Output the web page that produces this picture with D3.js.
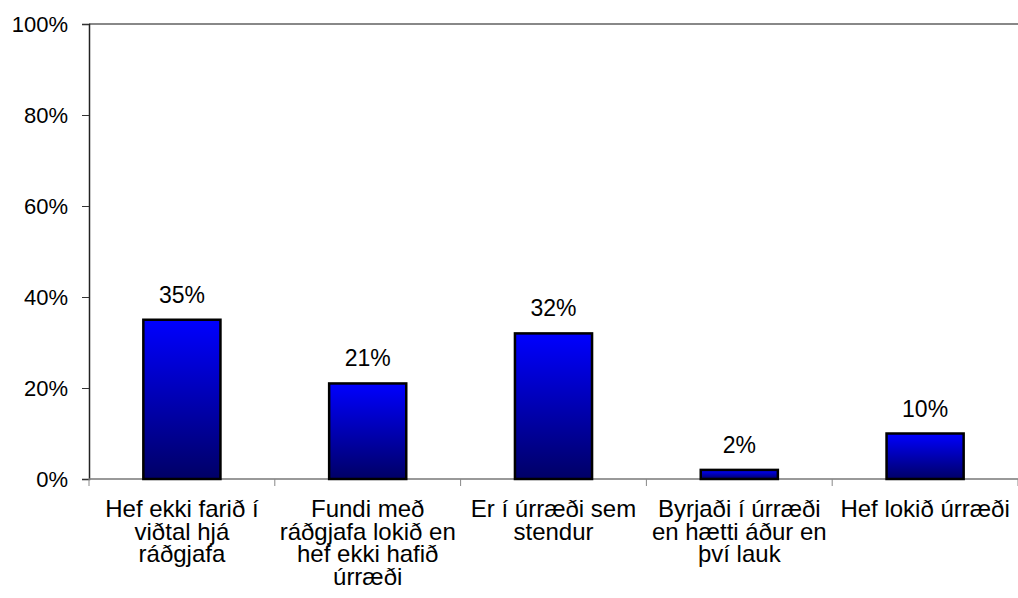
<!DOCTYPE html>
<meta charset="utf-8">
<style>
    body { margin: 0; background: #fff; }
    svg text { font-family: "Liberation Sans", Arial, sans-serif; fill: #000; }
    .cat { font-size: 24px; }
    .val { font-size: 23px; }
</style>
<body>
<script src="https://cdn.jsdelivr.net/npm/d3@7"></script>
<script>
    // data
    var categories = [
        ["Hef ekki farið í", "viðtal hjá", "ráðgjafa"],
        ["Fundi með", "ráðgjafa lokið en", "hef ekki hafið", "úrræði"],
        ["Er í úrræði sem", "stendur"],
        ["Byrjaði í úrræði", "en hætti áður en", "því lauk"],
        ["Hef lokið úrræði"]
    ];
    var values = [35, 21, 32, 2, 10];
    var yTicks = [0, 20, 40, 60, 80, 100];

    var W = 1018, H = 598;
    var margin = {top: 24, right: 0, bottom: 119, left: 89},
        width = W - margin.left - margin.right,
        height = H - margin.top - margin.bottom;

    var svg = d3.select("body").append("svg")
        .attr("width", W)
        .attr("height", H);

    // bar gradient, bright blue at top to navy at bottom
    var grad = svg.append("defs").append("linearGradient")
        .attr("id", "barGrad")
        .attr("x1", 0).attr("y1", 0).attr("x2", 0).attr("y2", 1);
    grad.append("stop").attr("offset", "0%").attr("stop-color", "#0000ff");
    grad.append("stop").attr("offset", "100%").attr("stop-color", "#000066");

    var g = svg.append("g")
        .attr("transform", "translate(" + margin.left + "," + margin.top + ")");

    var idx = d3.range(values.length);
    // outer padding half of inner so each band is exactly width/5
    var x = d3.scaleBand().domain(idx).range([0, width])
        .paddingInner(0.585).paddingOuter(0.2925);
    var y = d3.scaleLinear().domain([0, 100]).range([height, 0]);

    // top border line
    g.append("line")
        .attr("x1", 0).attr("x2", width)
        .attr("y1", y(100)).attr("y2", y(100))
        .attr("stroke", "#888").attr("stroke-width", 2);

    // y axis
    var yAxis = g.append("g")
        .call(d3.axisLeft(y).tickValues(yTicks)
            .tickSize(7).tickPadding(14)
            .tickFormat(function(d) { return d + "%"; }));
    yAxis.select(".domain").attr("stroke", "#222").attr("stroke-width", 1.5);
    yAxis.selectAll(".tick line").attr("stroke", "#333");
    yAxis.selectAll("text").attr("dy", "0.35em").style("font-size", "22px");

    // x axis: ticks sit on the category boundaries
    var step = x.step();
    g.append("line")
        .attr("x1", 0).attr("x2", width)
        .attr("y1", height).attr("y2", height)
        .attr("stroke", "#777").attr("stroke-width", 1.5);
    g.selectAll(".xtick")
        .data(d3.range(values.length + 1))
        .enter().append("line")
        .attr("class", "xtick")
        .attr("x1", function(d) { return d * step; })
        .attr("x2", function(d) { return d * step; })
        .attr("y1", height).attr("y2", height + 7)
        .attr("stroke", "#888");

    // bars
    g.selectAll(".bar")
        .data(values)
        .enter().append("rect")
        .attr("class", "bar")
        .attr("x", function(d, i) { return x(i); })
        .attr("width", x.bandwidth())
        .attr("y", function(d) { return y(d); })
        .attr("height", function(d) { return height - y(d); })
        .attr("fill", "url(#barGrad)")
        .attr("stroke", "#000")
        .attr("stroke-width", 2.5);

    // value labels
    g.selectAll(".val")
        .data(values)
        .enter().append("text")
        .attr("class", "val")
        .attr("x", function(d, i) { return x(i) + x.bandwidth() / 2; })
        .attr("y", function(d) { return y(d) - 17; })
        .attr("text-anchor", "middle")
        .text(function(d) { return d + "%"; });

    // category labels (wrapped lines)
    var cat = g.selectAll(".cat")
        .data(categories)
        .enter().append("text")
        .attr("class", "cat")
        .attr("text-anchor", "middle")
        .attr("transform", function(d, i) {
            return "translate(" + (x(i) + x.bandwidth() / 2) + "," + (height + 38) + ")";
        });
    cat.selectAll("tspan")
        .data(function(d) { return d; })
        .enter().append("tspan")
        .attr("x", 0)
        .attr("y", function(d, j) { return j * 22.5; })
        .text(function(d) { return d; });
</script>
</body>
